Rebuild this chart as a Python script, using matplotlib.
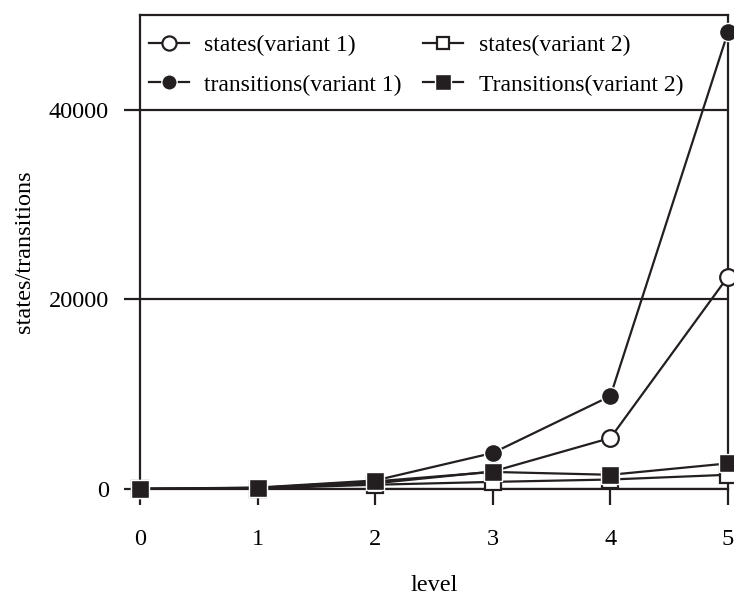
import matplotlib
matplotlib.use("Agg")
import matplotlib.pyplot as plt

# values
levels = [0, 1, 2, 3, 4, 5]
states_v1 = [10, 60, 600, 1850, 5380, 22400]
transitions_v1 = [20, 150, 900, 3800, 9800, 48200]
states_v2 = [10, 50, 450, 750, 1000, 1500]
transitions_v2 = [20, 120, 800, 1800, 1500, 2700]

labels = ["states(variant 1)", "transitions(variant 1)",
          "states(variant 2)", "Transitions(variant 2)"]

ink = "#231f20"
plt.rcParams["font.family"] = ["Liberation Serif", "DejaVu Serif"]
plt.rcParams["font.size"] = 17.5

fig = plt.figure(figsize=(7.34, 5.95), dpi=100)
ax = fig.add_axes([140 / 734, 1 - 489 / 595, 588 / 734, 474 / 595])

lw = 1.6
ax.plot(levels, states_v1, color=ink, lw=lw, marker="o", ms=12,
        mfc="white", mec=ink, mew=1.6, clip_on=False, label=labels[0], zorder=3)
ax.plot(levels, transitions_v1, color=ink, lw=lw, marker="o", ms=13,
        mfc=ink, mec="white", mew=1.0, clip_on=False, label=labels[1], zorder=3)
ax.plot(levels, states_v2, color=ink, lw=lw, marker="s", ms=11,
        mfc="white", mec=ink, mew=1.6, clip_on=False, label=labels[2], zorder=3)
ax.plot(levels, transitions_v2, color=ink, lw=lw, marker="s", ms=13,
        mfc=ink, mec="white", mew=1.0, clip_on=False, label=labels[3], zorder=3)

ax.set_xlim(0, 5)
ax.set_ylim(0, 50000)
ax.set_xticks(levels)
ax.set_yticks([0, 20000, 40000])

for s in ax.spines.values():
    s.set_linewidth(1.6)
    s.set_color(ink)

ax.grid(axis="y", color=ink, lw=1.6)
ax.set_axisbelow(True)
ax.tick_params(axis="x", direction="out", length=11.5, width=1.6, color=ink, pad=17)
ax.tick_params(axis="y", direction="out", length=11.5, width=1.6, color=ink, pad=11)

ax.set_xlabel("level", labelpad=18)
ax.set_ylabel("states/transitions", labelpad=10)

leg = ax.legend(ncol=2, loc="upper left", bbox_to_anchor=(0.015, 0.958),
                frameon=False, borderpad=0, borderaxespad=0, fontsize=17,
                handlelength=1.7, handletextpad=0.65, columnspacing=0.9,
                labelspacing=0.75, markerscale=0.85)

fig.savefig("out.png", dpi=100)
